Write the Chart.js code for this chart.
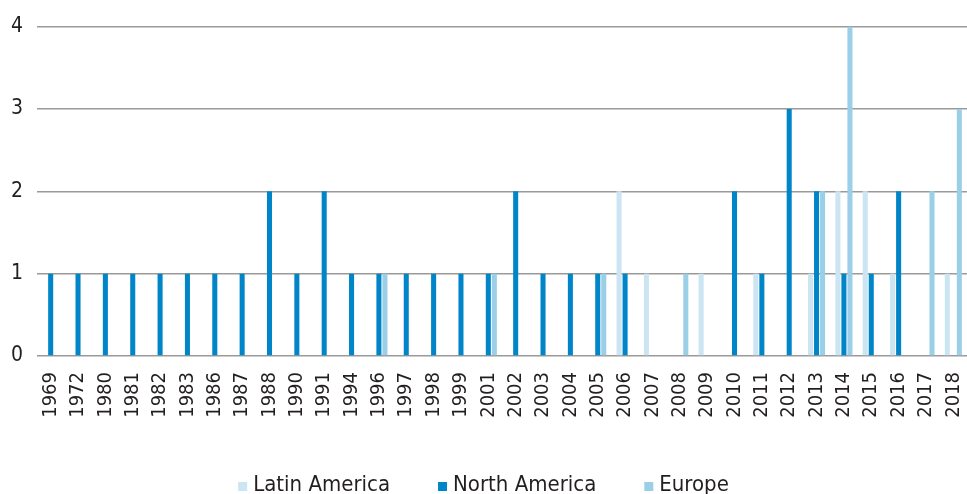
<!DOCTYPE html>
<html>
<head>
<meta charset="utf-8">
<script src="https://cdn.jsdelivr.net/npm/chart.js@4/dist/chart.umd.min.js"></script>
<style>
  html, body { margin: 0; padding: 0; background: #ffffff; }
  #wrap { width: 967px; height: 494px; position: relative; }
</style>
</head>
<body>
<div id="wrap"><canvas id="chart" width="967" height="494"></canvas></div>
<script>
// Years shown on the category axis
const years = ['1969','1972','1980','1981','1982','1983','1986','1987','1988','1990',
  '1991','1994','1996','1997','1998','1999','2001','2002','2003','2004',
  '2005','2006','2007','2008','2009','2010','2011','2012','2013','2014',
  '2015','2016','2017','2018'];

// Counts per year for each region
const latinAmerica = [0,0,0,0,0,0,0,0,0,0,
  0,0,0,0,0,0,0,0,0,0,
  0,2,1,0,1,0,1,0,1,2,
  2,1,0,1];
const northAmerica = [1,1,1,1,1,1,1,1,2,1,
  2,1,1,1,1,1,1,2,1,1,
  1,1,0,0,0,2,1,3,2,1,
  1,2,0,0];
const europe = [0,0,0,0,0,0,0,0,0,0,
  0,0,1,0,0,0,1,0,0,0,
  1,0,0,1,0,0,0,0,2,4,
  0,0,2,3];

const yTicks = [0, 1, 2, 3, 4];

const FONT = "'Liberation Sans Narrow', 'DejaVu Sans Condensed', 'Roboto', sans-serif";
const TEXT = '#231f20';

// Legend row under the axis: small squares sitting on the text baseline
const bottomLegend = {
  id: 'bottomLegend',
  afterDraw(chart) {
    const ctx = chart.ctx;
    const sets = chart.data.datasets;
    const box = 9, gapText = 6, gapItem = 48;
    ctx.save();
    ctx.font = '22px ' + FONT;
    ctx.textBaseline = 'alphabetic';
    ctx.textAlign = 'left';
    const widths = sets.map(d => box + gapText + ctx.measureText(d.label).width);
    const total = widths.reduce((a, b) => a + b, 0) + gapItem * (sets.length - 1);
    let x = (chart.width - total) / 2;
    const baseline = 491;
    sets.forEach((d, i) => {
      ctx.fillStyle = d.backgroundColor;
      ctx.fillRect(x, baseline - box, box, box);
      ctx.fillStyle = TEXT;
      ctx.fillText(d.label, x + box + gapText, baseline);
      x += widths[i] + gapItem;
    });
    ctx.restore();
  }
};

new Chart(document.getElementById('chart'), {
  type: 'bar',
  data: {
    labels: years,
    datasets: [
      { label: 'Latin America', data: latinAmerica, backgroundColor: '#cce5f2' },
      { label: 'North America', data: northAmerica, backgroundColor: '#0086c8' },
      { label: 'Europe', data: europe, backgroundColor: '#9bcfe8' }
    ]
  },
  plugins: [bottomLegend],
  options: {
    responsive: false,
    animation: false,
    datasets: { bar: { categoryPercentage: 0.66, barPercentage: 0.84, borderWidth: 0 } },
    layout: { padding: { top: 19, right: 0, left: 0, bottom: 60 } },
    plugins: {
      tooltip: { enabled: false },
      legend: { display: false }
    },
    scales: {
      x: {
        grid: { display: false },
        border: { display: false },
        ticks: {
          font: { family: FONT, size: 20 },
          color: TEXT,
          minRotation: 90,
          maxRotation: 90,
          autoSkip: false,
          padding: 8
        },
        afterFit: (s) => { s.height = 78; s.paddingRight = 0; s.paddingLeft = 0; }
      },
      y: {
        min: 0,
        max: 4,
        afterBuildTicks: (s) => { s.ticks = yTicks.map(v => ({ value: v })); },
        grid: { color: '#9a9a9a', lineWidth: 1.5, drawTicks: false },
        border: { display: false },
        ticks: {
          font: { family: FONT, size: 21 },
          color: TEXT,
          padding: 14
        },
        afterFit: (s) => { s.width = 37; }
      }
    }
  }
});
</script>
</body>
</html>
